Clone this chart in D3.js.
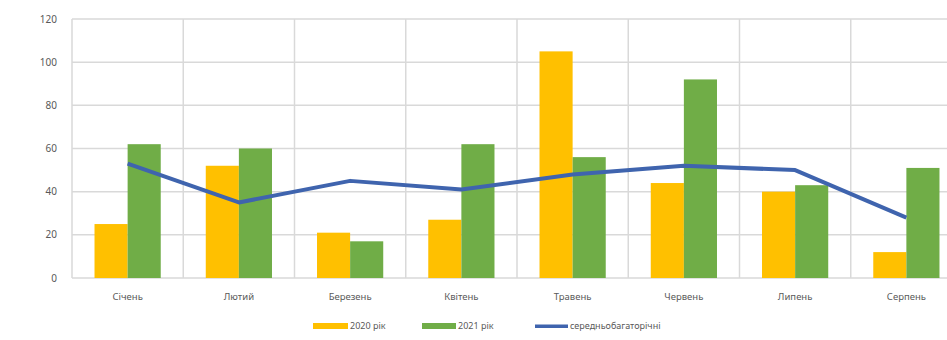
<!DOCTYPE html>
<html><head><meta charset="utf-8">
<script src="https://cdn.jsdelivr.net/npm/d3@7"></script>
<style>body{margin:0;background:#fff}svg{display:block}</style>
</head><body>
<script>
const months = ["Січень","Лютий","Березень","Квітень","Травень","Червень","Липень","Серпень"];
const y2020 = [25, 52, 21, 27, 105, 44, 40, 12];
const y2021 = [62, 60, 17, 62, 56, 92, 43, 51];
const avg = [53, 35, 45, 41, 48, 52, 50, 28];
const yTicks = [0, 20, 40, 60, 80, 100, 120];
const seriesNames = ["2020 рік", "2021 рік", "середньобагаторічні"];
const colors = ["#FFC000", "#70AD47", "#3F64AE"];

(function () {
const W = 947, H = 340;
const svg = d3.select("body").append("svg").attr("width", W).attr("height", H);
const pL = 72, pR = 962, pT = 19, pB = 278;
const x = d3.scaleBand().domain(months).range([pL, pR]);
const y = d3.scaleLinear().domain([0, 120]).range([pB, pT]);
const font = "'Noto Sans', 'DejaVu Sans', sans-serif";
const grid = "#d9d9d9";

// horizontal gridlines
svg.append("g").selectAll("line").data(yTicks).join("line")
  .attr("x1", pL).attr("x2", W).attr("y1", d => y(d)).attr("y2", d => y(d))
  .attr("stroke", grid).attr("stroke-width", 1.5);
// vertical gridlines
const bounds = months.map(m => x(m)).concat([pR]);
svg.append("g").selectAll("line").data(bounds).join("line")
  .attr("x1", d => d).attr("x2", d => d).attr("y1", pT).attr("y2", pB)
  .attr("stroke", grid).attr("stroke-width", 1.5);

// y labels
svg.append("g").selectAll("text").data(yTicks).join("text")
  .attr("x", 57).attr("y", d => y(d)).attr("dy", "0.35em").attr("text-anchor", "end")
  .attr("font-family", font).attr("font-size", 10).attr("fill", "#595959").text(d => d);

// bars
const inner = d3.scaleBand().domain([0, 1]).range([0, x.bandwidth()]).paddingInner(0).paddingOuter(0.68);
const g = svg.append("g");
months.forEach((m, i) => {
  [y2020[i], y2021[i]].forEach((v, s) => {
    g.append("rect").attr("x", x(m) + inner(s)).attr("width", inner.bandwidth())
      .attr("y", y(v)).attr("height", y(0) - y(v)).attr("fill", colors[s]);
  });
});

// x labels
svg.append("g").selectAll("text").data(months).join("text")
  .attr("x", d => x(d) + x.bandwidth() / 2).attr("y", 300).attr("text-anchor", "middle")
  .attr("font-family", font).attr("font-size", 9.5).attr("fill", "#595959").text(d => d);

// line
const line = d3.line().x((d, i) => x(months[i]) + x.bandwidth() / 2).y(d => y(d));
svg.append("path").datum(avg).attr("d", line).attr("fill", "none")
  .attr("stroke", colors[2]).attr("stroke-width", 4).attr("stroke-linejoin", "round");

// legend
const leg = [{x: 313, w: 35}, {x: 422, w: 34}, {x: 535, w: 33}];
leg.forEach((l, i) => {
  svg.append("rect").attr("x", l.x).attr("y", i === 2 ? 324.5 : 323).attr("width", l.w).attr("height", i === 2 ? 3.5 : 6)
    .attr("fill", colors[i]);
  svg.append("text").attr("x", l.x + l.w + 2).attr("y", 326).attr("dy", "0.35em")
    .attr("font-family", font).attr("font-size", 9).attr("fill", "#595959").text(seriesNames[i]);
});
})();
</script>
</body></html>
